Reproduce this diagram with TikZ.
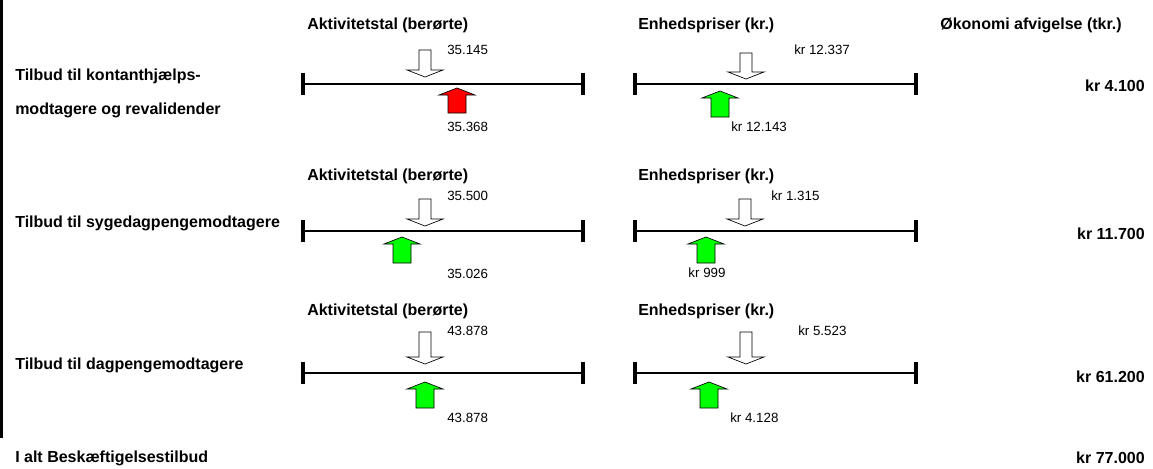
\documentclass[tikz,border=0pt]{standalone}
\usepackage{fontspec}
\setmainfont{Liberation Sans}
% hul pil ned (x, top, spids) og fyldt pil op (x, spids, bund, farve)
\newcommand{\nedpil}[3]{\draw[fill=white, line width=0.5pt] ({#1-6},#2) -- ({#1+6},#2) -- ({#1+6},{#3-7}) -- ({#1+18},{#3-7}) -- (#1,#3) -- ({#1-18},{#3-7}) -- ({#1-6},{#3-7}) -- cycle;}
\newcommand{\oppil}[4]{\draw[fill=#4, line width=0.5pt] ({#1-9},#3) -- ({#1+9},#3) -- ({#1+9},{#2+7}) -- ({#1+18},{#2+7}) -- (#1,#2) -- ({#1-18},{#2+7}) -- ({#1-9},{#2+7}) -- cycle;}
\begin{document}
\begin{tikzpicture}[x=0.75pt, y=-0.75pt,
  overskrift/.style={anchor=west, inner sep=0, font=\fontsize{12}{14}\selectfont\bfseries},
  tal/.style={anchor=west, inner sep=0, font=\fontsize{10}{12}\selectfont},
  linje/.style={line width=2pt},
  streg/.style={line width=3pt}]
\useasboundingbox (0,0) rectangle (1153,468);
\draw[line width=2pt] (1.5,0)--(1.5,438);
\node[overskrift, anchor=east] (oko) at (1122,25) {Økonomi afvigelse (tkr.)};
% kontanthjaelp
\pgfmathsetmacro{\y}{84};
\node[overskrift] (akt1) at (307,25) {Aktivitetstal (berørte)};
\node[overskrift] (enh1) at (638,25) {Enhedspriser (kr.)};
\node[overskrift] (til1a) at (15,76) {Tilbud til kontanthjælps-};
\node[overskrift] (til1b) at (15,110) {modtagere og revalidender};
\draw[linje] (303,\y)--(583,\y);
\draw[streg] (303,\y-11)--(303,\y+11);
\draw[streg] (583,\y-11)--(583,\y+11);
\draw[linje] (635,\y)--(916,\y);
\draw[streg] (635,\y-11)--(635,\y+11);
\draw[streg] (916,\y-11)--(916,\y+11);
\nedpil{425}{50}{77}
\oppil{457}{88}{113}{red}
\nedpil{746}{53}{79}
\oppil{720}{91}{117}{green}
\node[tal] (b1) at (447,50) {35.145};
\node[tal] (f1) at (447,127) {35.368};
\node[tal] (pb1) at (794,50) {kr 12.337};
\node[tal] (pf1) at (731,127) {kr 12.143};
\node[overskrift, anchor=east] (sum1) at (1145,86) {kr 4.100};
% sygedagpenge
\pgfmathsetmacro{\y}{231};
\node[overskrift] (akt2) at (307,176) {Aktivitetstal (berørte)};
\node[overskrift] (enh2) at (638,176) {Enhedspriser (kr.)};
\node[overskrift] (til2) at (15,223) {Tilbud til sygedagpengemodtagere};
\draw[linje] (303,\y)--(583,\y);
\draw[streg] (303,\y-11)--(303,\y+11);
\draw[streg] (583,\y-11)--(583,\y+11);
\draw[linje] (635,\y)--(916,\y);
\draw[streg] (635,\y-11)--(635,\y+11);
\draw[streg] (916,\y-11)--(916,\y+11);
\nedpil{425}{199}{226}
\oppil{402}{237}{263}{green}
\nedpil{745}{199}{226}
\oppil{706}{237}{263}{green}
\node[tal] (b2) at (447,196) {35.500};
\node[tal] (f2) at (447,274) {35.026};
\node[tal] (pb2) at (771,196) {kr 1.315};
\node[tal, anchor=center] (pf2) at (707,273) {kr 999};
\node[overskrift, anchor=east] (sum2) at (1145,234) {kr 11.700};
% dagpenge
\pgfmathsetmacro{\y}{373};
\node[overskrift] (akt3) at (307,311) {Aktivitetstal (berørte)};
\node[overskrift] (enh3) at (638,311) {Enhedspriser (kr.)};
\node[overskrift] (til3) at (15,365) {Tilbud til dagpengemodtagere};
\draw[linje] (303,\y)--(583,\y);
\draw[streg] (303,\y-11)--(303,\y+11);
\draw[streg] (583,\y-11)--(583,\y+11);
\draw[linje] (635,\y)--(916,\y);
\draw[streg] (635,\y-11)--(635,\y+11);
\draw[streg] (916,\y-11)--(916,\y+11);
\nedpil{425}{332}{364}
\oppil{425}{382}{408}{green}
\nedpil{746}{332}{364}
\oppil{709}{382}{408}{green}
\node[tal] (b3) at (447,331) {43.878};
\node[tal] (f3) at (447,418) {43.878};
\node[tal] (pb3) at (798,331) {kr 5.523};
\node[tal] (pf3) at (730,418) {kr 4.128};
\node[overskrift, anchor=east] (sum3) at (1145,377) {kr 61.200};
% i alt
\node[overskrift] (ialt) at (15,458) {I alt Beskæftigelsestilbud};
\node[overskrift, anchor=east] (sumialt) at (1145,458) {kr 77.000};
\end{tikzpicture}
\end{document}
